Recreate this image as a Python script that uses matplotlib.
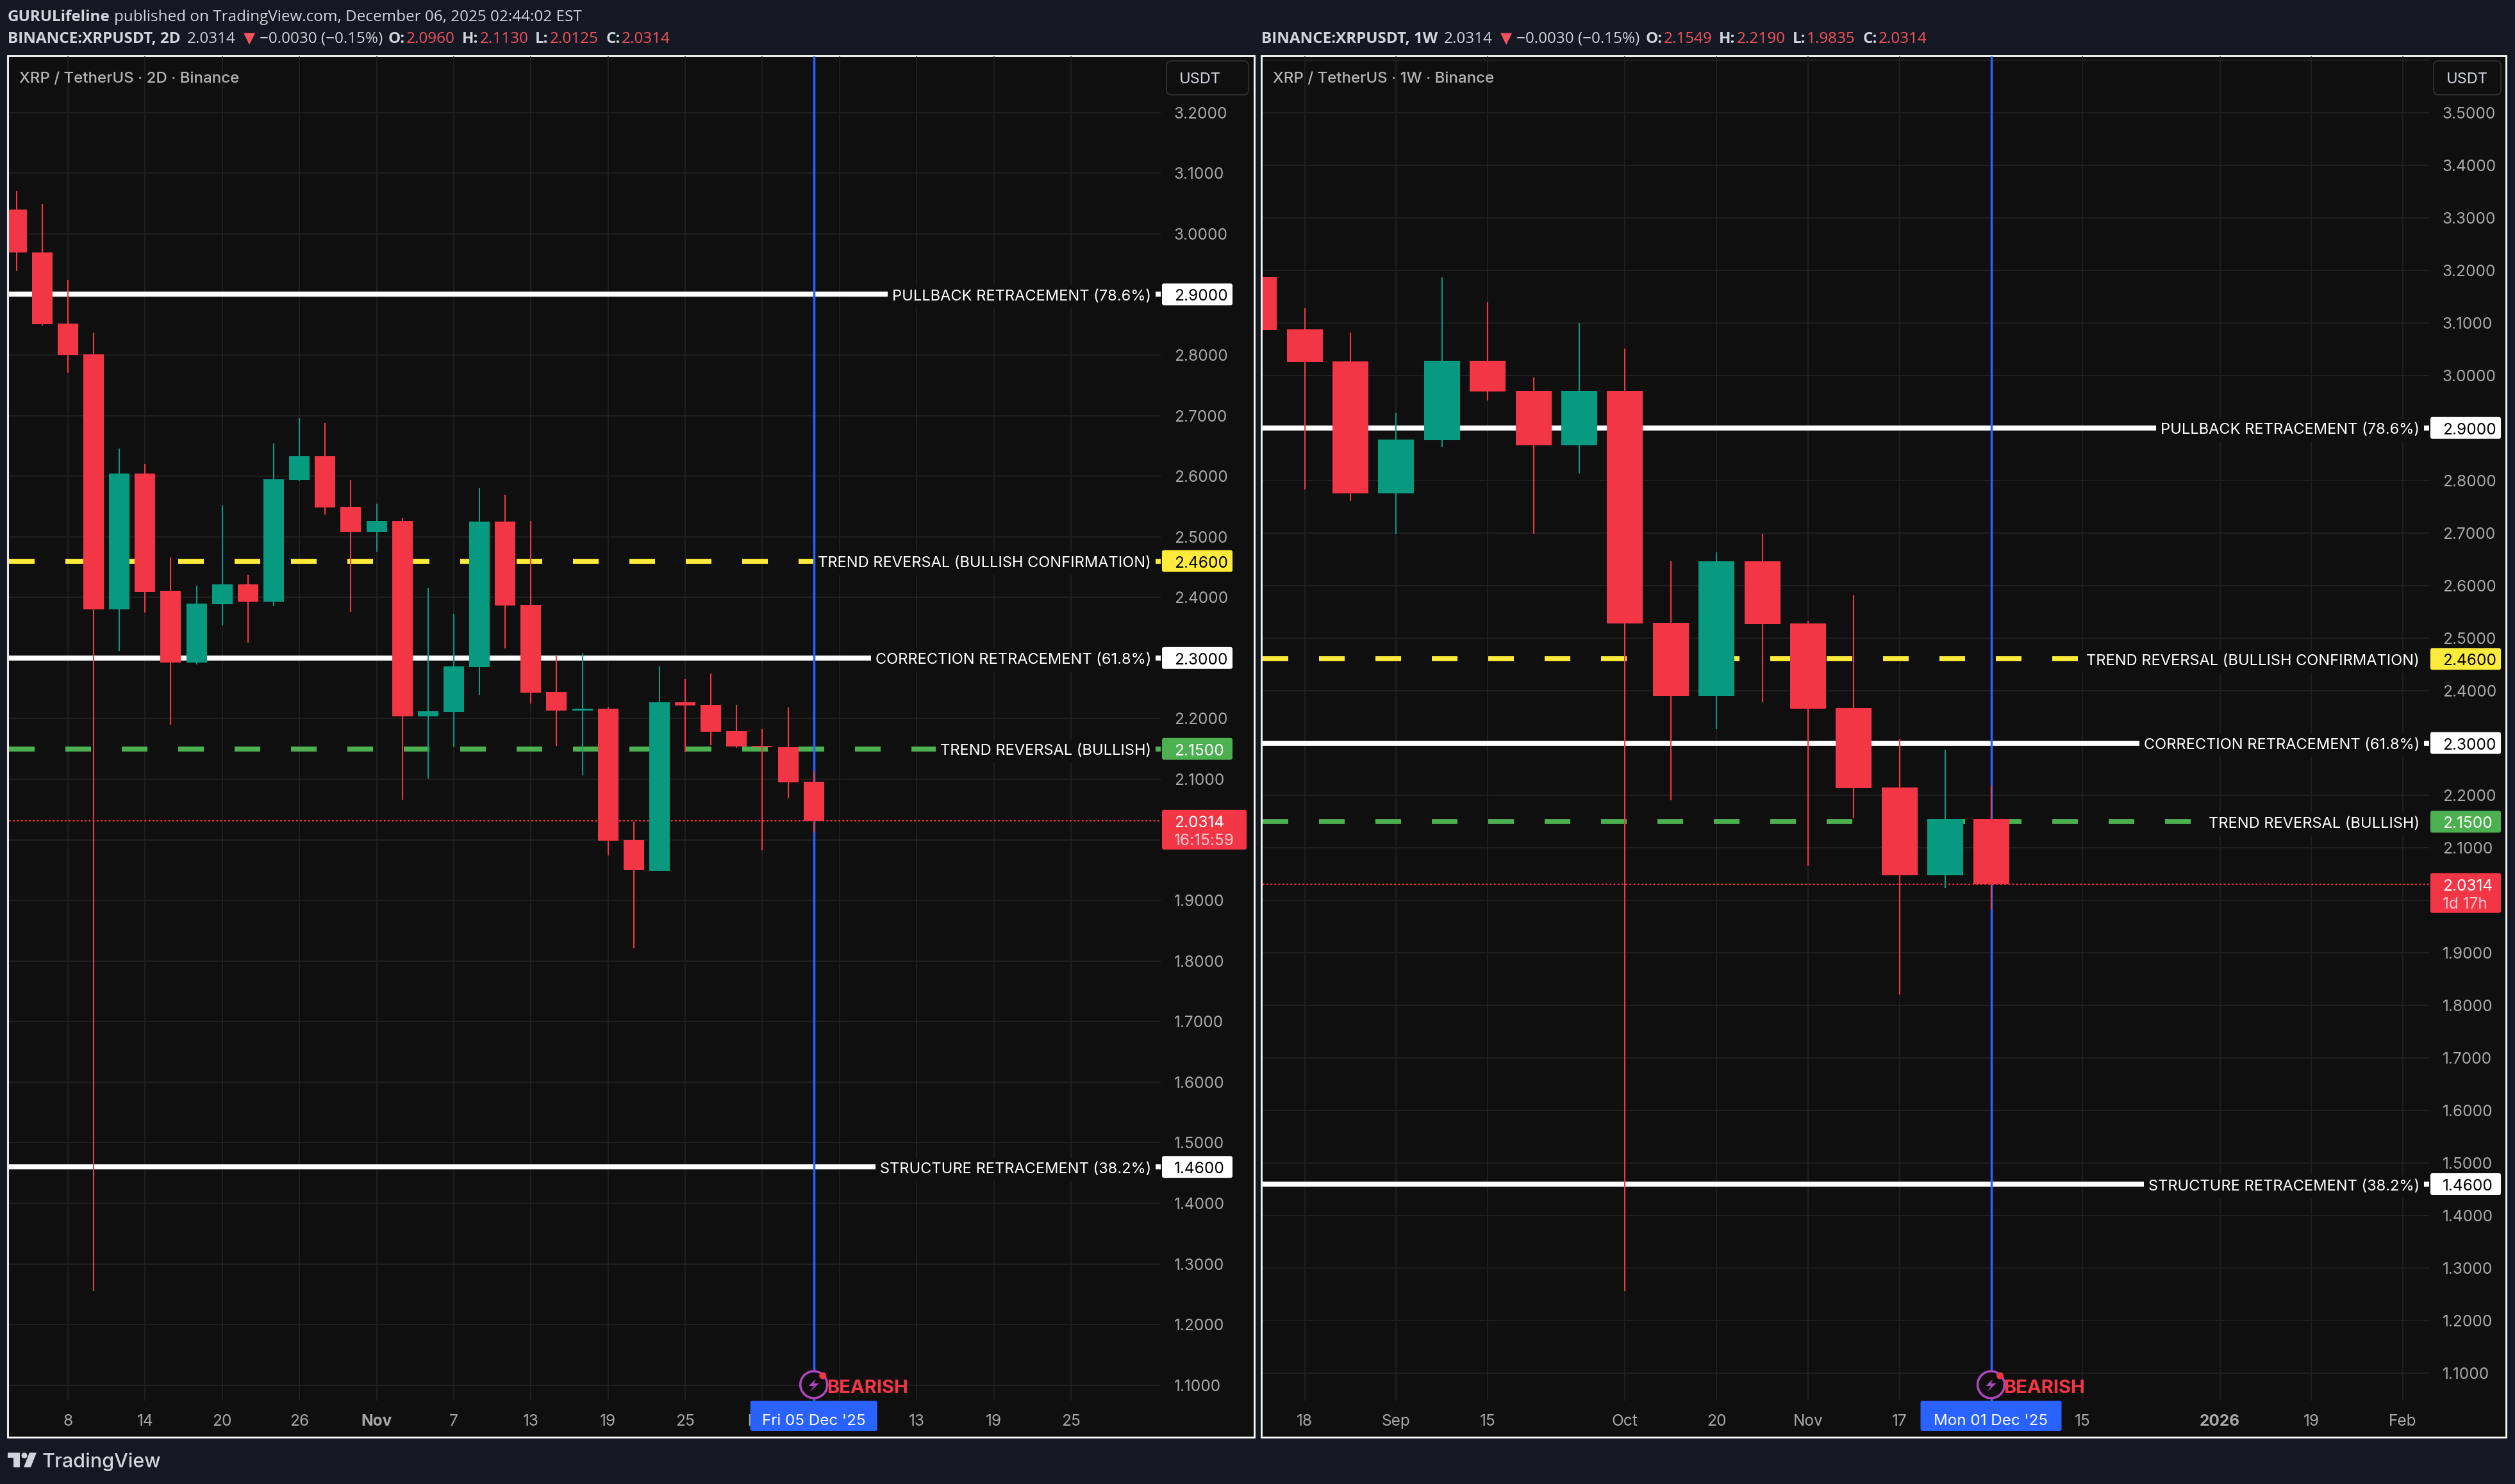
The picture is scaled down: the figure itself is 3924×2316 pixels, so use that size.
import matplotlib
matplotlib.use('Agg')
import matplotlib.pyplot as plt
from matplotlib.patches import Rectangle, FancyBboxPatch, Circle, Polygon

W, H = 3924, 2316
BG = '#131822'
PANEL = '#0f0f0f'
GRID = '#1f1f1f'
RED = '#f23645'
GREEN = '#089981'
BLUE = '#2962ff'
AXIS_TEXT = '#a8a8a8'

# 2D chart
left_open = [3.0400, 2.9693, 2.8517, 2.8010, 2.3802, 2.6046, 2.4110, 2.2923, 2.3888, 2.4212, 2.3932,
             2.5938, 2.6327, 2.5496, 2.5081, 2.5264, 2.2038, 2.2108, 2.2853, 2.5253, 2.3878, 2.2437,
             2.2130, 2.2162, 1.9993, 1.9486, 2.2270, 2.2227, 2.1795, 2.1552, 2.1531, 2.0960]
left_high = [3.0707, 3.0497, 2.9235, 2.8371, 2.6456, 2.6203, 2.4655, 2.4196, 2.5528, 2.4374, 2.6543,
             2.6963, 2.6877, 2.5938, 2.5544, 2.5313, 2.4153, 2.3727, 2.5798, 2.5696, 2.5264, 2.3031,
             2.3074, 2.2194, 2.0296, 2.2863, 2.2648, 2.2745, 2.2227, 2.1828, 2.2184, 2.1130]
left_low = [2.9386, 2.8485, 2.7703, 1.2550, 2.3117, 2.3748, 2.1898, 2.2890, 2.3538, 2.3252, 2.3856,
            2.5917, 2.5367, 2.3759, 2.4752, 2.0662, 2.1013, 2.1531, 2.2383, 2.3155, 2.2248, 2.1552,
            2.1062, 1.9740, 1.8208, 1.9486, 2.1445, 2.1563, 2.1520, 1.9826, 2.0684, 2.0125]
left_close = [2.9688, 2.8506, 2.7999, 2.3802, 2.6046, 2.4088, 2.2923, 2.3899, 2.4212, 2.3932, 2.5949,
              2.6327, 2.5485, 2.5081, 2.5264, 2.2038, 2.2119, 2.2863, 2.5253, 2.3867, 2.2426, 2.2130,
              2.2162, 1.9983, 1.9497, 2.2270, 2.2216, 2.1784, 2.1542, 2.1531, 2.0948, 2.0314]
left_xticks = [2, 5, 8, 11, 14, 17, 20, 23, 26, 29, 32, 35, 38, 41]
left_xlabels = ['8', '14', '20', '26', 'Nov', '7', '13', '19', '25', 'Dec', '7', '13', '19', '25']
left_yticks = [3.2, 3.1, 3.0, 2.9, 2.8, 2.7, 2.6, 2.5, 2.4, 2.3, 2.2, 2.1, 2.0, 1.9, 1.8, 1.7, 1.6, 1.5, 1.4, 1.3, 1.2, 1.1]

# 1W chart
right_open = [3.1874, 3.0878, 3.0268, 2.7753, 2.8762, 3.0281, 2.9702, 2.8668, 2.9702, 2.5288, 2.3894,
              2.6458, 2.5276, 2.3663, 2.2151, 2.0482, 2.1549]
right_high = [3.1874, 3.1277, 3.0816, 2.9291, 3.1862, 3.1401, 2.9963, 3.0997, 3.0511, 2.6458, 2.6627,
              2.6981, 2.5326, 2.5811, 2.3078, 2.2873, 2.2190]
right_low = [3.0866, 2.7828, 2.7604, 2.6981, 2.8631, 2.9521, 2.6981, 2.8133, 1.2562, 2.1908, 2.3265,
             2.3775, 2.0663, 2.1566, 1.8210, 2.0233, 1.9835]
right_close = [3.0866, 3.0256, 2.7753, 2.8774, 3.0281, 2.9689, 2.8668, 2.9702, 2.5276, 2.3894, 2.6458,
               2.5263, 2.3651, 2.2138, 2.0482, 2.1553, 2.0314]
right_xticks = [1, 3, 5, 8, 10, 12, 14, 16, 18, 21, 23, 25]
right_xlabels = ['18', 'Sep', '15', 'Oct', '20', 'Nov', '17', 'Dec', '15', '2026', '19', 'Feb']
right_yticks = [3.6, 3.5, 3.4, 3.3, 3.2, 3.1, 3.0, 2.9, 2.8, 2.7, 2.6, 2.5, 2.4, 2.3, 2.2, 2.1, 2.0, 1.9, 1.8, 1.7, 1.6, 1.5, 1.4, 1.3, 1.2, 1.1]

# price levels
level_prices = [2.90, 2.46, 2.30, 2.15, 1.46]
level_names = ['PULLBACK RETRACEMENT (78.6%)', 'TREND REVERSAL (BULLISH CONFIRMATION)',
               'CORRECTION RETRACEMENT (61.8%)', 'TREND REVERSAL (BULLISH)', 'STRUCTURE RETRACEMENT (38.2%)']
level_colors = ['#ffffff', '#ffeb3b', '#ffffff', '#4caf50', '#ffffff']
level_text = ['#000000', '#000000', '#000000', '#ffffff', '#000000']
level_dashed = [False, True, False, True, False]
last_price = 2.0314

plt.rcParams['font.family'] = ['Inter', 'DejaVu Sans']

fig = plt.figure(figsize=(W / 100, H / 100), dpi=100, facecolor=BG)


def px_axes(x0, y0, x1, y1):
    return [x0 / W, 1 - y1 / H, (x1 - x0) / W, (y1 - y0) / H]


def chrome_axes(z):
    a = fig.add_axes([0, 0, 1, 1], zorder=z)
    a.set_xlim(0, W)
    a.set_ylim(H, 0)
    a.axis('off')
    a.patch.set_alpha(0)
    return a


under = chrome_axes(0)
over = chrome_axes(5)


def to_px(ax, x, price):
    px, py = ax.transData.transform((x, price))
    return px, H - py


def tag(y, x0, x1, color, h=34, top=None):
    y0 = y - h / 2 if top is None else top
    over.add_patch(FancyBboxPatch((x0 + 3, y0 + 3), x1 - x0 - 6, h - 6, boxstyle='round,pad=3',
                                  fc=color, ec='none', zorder=3))


def draw_panel(frame, plot_x1, bar0, bar_step, top_price, per_unit, o, h, l, c, xticks, xlabels, bold, yticks,
               body_w, name, date_text, date_half, count_text, red_x1, usdt_x0, usdt_x1):
    fx0, fx1 = frame
    under.add_patch(Rectangle((fx0, 87), fx1 - fx0, 2243 - 87, fc=PANEL, ec='#ffffff', lw=2))
    ax = fig.add_axes(px_axes(fx0 + 2, 88, plot_x1, 2186), zorder=2)
    ax.patch.set_alpha(0)
    ax.set_xlim((fx0 + 2 - bar0) / bar_step, (plot_x1 - bar0) / bar_step)
    ax.set_ylim(top_price[0] - (2186 - top_price[1]) / per_unit, top_price[0] + (top_price[1] - 88) / per_unit)
    for s in ax.spines.values():
        s.set_visible(False)

    ax.yaxis.tick_right()
    ax.set_yticks(yticks)
    ax.set_yticklabels(['' if v > 3.55 else '%.4f' % v for v in yticks], fontsize=17.6, color=AXIS_TEXT,
                       ha='left', va='center_baseline')
    ax.set_xticks(xticks)
    ax.set_xticklabels(xlabels, fontsize=17.6, color=AXIS_TEXT)
    for t, s in zip(ax.get_xticklabels(), xlabels):
        if s in bold:
            t.set_fontweight('bold')
    ax.tick_params(axis='y', length=0, pad=15)
    ax.tick_params(axis='x', length=0, pad=15)
    ax.grid(True, color=GRID, lw=1.4, zorder=0)
    ax.set_axisbelow(True)

    # levels
    x_line0 = ax.get_xlim()[0]
    label_x1 = plot_x1 - 15
    for price, name_, col, tcol, dashed in zip(level_prices, level_names, level_colors, level_text, level_dashed):
        line = ax.plot([x_line0, ax.get_xlim()[1]], [price, price], color=col, lw=5.6, zorder=1,
                       solid_capstyle='butt', dash_capstyle='butt')[0]
        if dashed:
            line.set_dashes((40 * 0.72 / 5.6, 48 * 0.72 / 5.6))
        y = to_px(ax, 0, price)[1]
        ax.annotate(name_, xy=(label_x1 / W, price), xycoords=('figure fraction', 'data'), xytext=(0, -0.8),
                    textcoords='offset points', ha='right', va='center_baseline', fontsize=17, color='#ffffff',
                    zorder=1.5, bbox=dict(boxstyle='square,pad=0.3', fc=PANEL, ec='none'))
        tag(y, plot_x1 + 2, plot_x1 + 112, col)
        over.text(plot_x1 + 21, y + 1, '%.4f' % price, color=tcol, fontsize=17.6, ha='left', va='center_baseline', zorder=4)

    # last price
    ax.axhline(last_price, color=RED, lw=1.6, dashes=(1.2, 1.6), zorder=1)
    y = to_px(ax, 0, last_price)[1]
    tag(0, plot_x1 + 2, red_x1, RED, h=62, top=y - 17)
    over.text(plot_x1 + 21, y + 1, '%.4f' % last_price, color='#ffffff', fontsize=17.6, ha='left', va='center_baseline', zorder=4)
    over.text(plot_x1 + 21, y + 29, count_text, color='#fbc8cd', fontsize=17.6, ha='left', va='center_baseline', zorder=4)

    # candles
    last = len(o) - 1
    ax.axvline(last, color=BLUE, lw=2.5, zorder=2)
    xs = list(range(len(o)))
    cols = [GREEN if cc >= oo else RED for oo, cc in zip(o, c)]
    ax.vlines(xs, l, h, colors=cols, lw=1.5, zorder=3)
    ax.bar(xs, [abs(cc - oo) for oo, cc in zip(o, c)], bottom=[min(oo, cc) for oo, cc in zip(o, c)],
           width=body_w / bar_step, color=cols, lw=0, zorder=3.5)

    # date box and marker
    bx = to_px(ax, last, 2)[0]
    tag(0, bx - date_half, bx + date_half, BLUE, h=47, top=2186)
    over.text(bx, 2216, date_text, color='#ffffff', fontsize=17.4, ha='center', va='center_baseline', zorder=4)
    over.add_patch(Circle((bx, 2161), 21, fc=PANEL, ec='#ab47bc', lw=2.6, zorder=3))
    bolt = [(3, -9), (-8, 2), (0, 2), (-6, 11), (8, -2), (0, -2)]
    over.add_patch(Polygon([(bx + p[0], 2161 + p[1]) for p in bolt], fc='#ab47bc', ec='none', zorder=4))
    over.add_patch(Circle((bx + 14, 2147), 5.5, fc=RED, ec='none', zorder=4))
    over.text(bx + 20, 2164, 'BEARISH', color=RED, fontsize=21, fontweight='bold', ha='left', va='center_baseline', zorder=4)

    # top of panel
    over.text(fx0 + 18, 121, name, color='#b4b4b4', fontsize=17.3, fontweight='medium', ha='left', va='center_baseline')
    over.add_patch(FancyBboxPatch((usdt_x0 + 8, 103), usdt_x1 - usdt_x0 - 16, 37, boxstyle='round,pad=8',
                                  fc=PANEL, ec='#2e2e2e', lw=1.4, zorder=3))
    over.text(usdt_x0 + 20, 122, 'USDT', color='#d1d4dc', fontsize=17, ha='left', va='center_baseline', zorder=4)
    return ax


ax_left = draw_panel((12, 1957), 1811, 25.7, 40.13, (3.2, 175.7), 945.7, left_open, left_high, left_low, left_close,
                     left_xticks, left_xlabels, ['Nov', 'Dec'], left_yticks, 32, 'XRP / TetherUS · 2D · Binance',
                     "Fri 05 Dec '25", 99, '16:15:59', 1945, 1820, 1948)
ax_right = draw_panel((1968, 3910), 3790, 1964.1, 71.4, (3.5, 176), 819.6, right_open, right_high, right_low, right_close,
                      right_xticks, right_xlabels, ['2026'], right_yticks, 56, 'XRP / TetherUS · 1W · Binance',
                      "Mon 01 Dec '25", 110, '1d 17h', 3902, 3797, 3902)


# header, pieces placed one after the other
def row(x, y, parts):
    rend = fig.canvas.get_renderer()
    for s, col, weight, gap in parts:
        fam = ['DejaVu Sans'] if s == '▼' else ['Open Sans', 'DejaVu Sans']
        size = 17 if s == '▼' else 17.5
        t = under.text(x, y, s, color=col, fontsize=size, fontweight=weight, ha='left', va='center_baseline', family=fam)
        x += t.get_window_extent(rend).width + gap


HEAD = '#d1d4dc'
HRED = '#f7525f'
row(12, 24, [('GURULifeline', HEAD, 'bold', 6), ('published on TradingView.com, December 06, 2025 02:44:02 EST', HEAD, 'normal', 0)])


def ohlc_row(x, sym, o, h, l, c):
    row(x, 58, [(sym, HEAD, 'bold', 10), ('2.0314', HEAD, 'normal', 12), ('▼', HRED, 'normal', 7),
                ('−0.0030 (−0.15%)', HEAD, 'normal', 9), ('O:', HEAD, 'bold', 2), (o, HRED, 'normal', 11),
                ('H:', HEAD, 'bold', 2), (h, HRED, 'normal', 11), ('L:', HEAD, 'bold', 2), (l, HRED, 'normal', 12),
                ('C:', HEAD, 'bold', 2), (c, HRED, 'normal', 0)])


ohlc_row(12, 'BINANCE:XRPUSDT, 2D', '2.0960', '2.1130', '2.0125', '2.0314')
ohlc_row(1968, 'BINANCE:XRPUSDT, 1W', '2.1549', '2.2190', '1.9835', '2.0314')

# logo
under.add_patch(Polygon([(12, 2267), (31, 2267), (31, 2290), (21, 2290), (21, 2275), (12, 2275)], fc=HEAD, ec='none'))
under.add_patch(Circle((38, 2271.5), 4.5, fc=HEAD, ec='none'))
under.add_patch(Polygon([(46, 2267), (57, 2267), (48, 2290), (37, 2290)], fc=HEAD, ec='none'))
under.text(66, 2279, 'TradingView', color=HEAD, fontsize=22, fontweight='medium', ha='left', va='center_baseline')

fig.savefig('out.png', dpi=100, facecolor=BG)
